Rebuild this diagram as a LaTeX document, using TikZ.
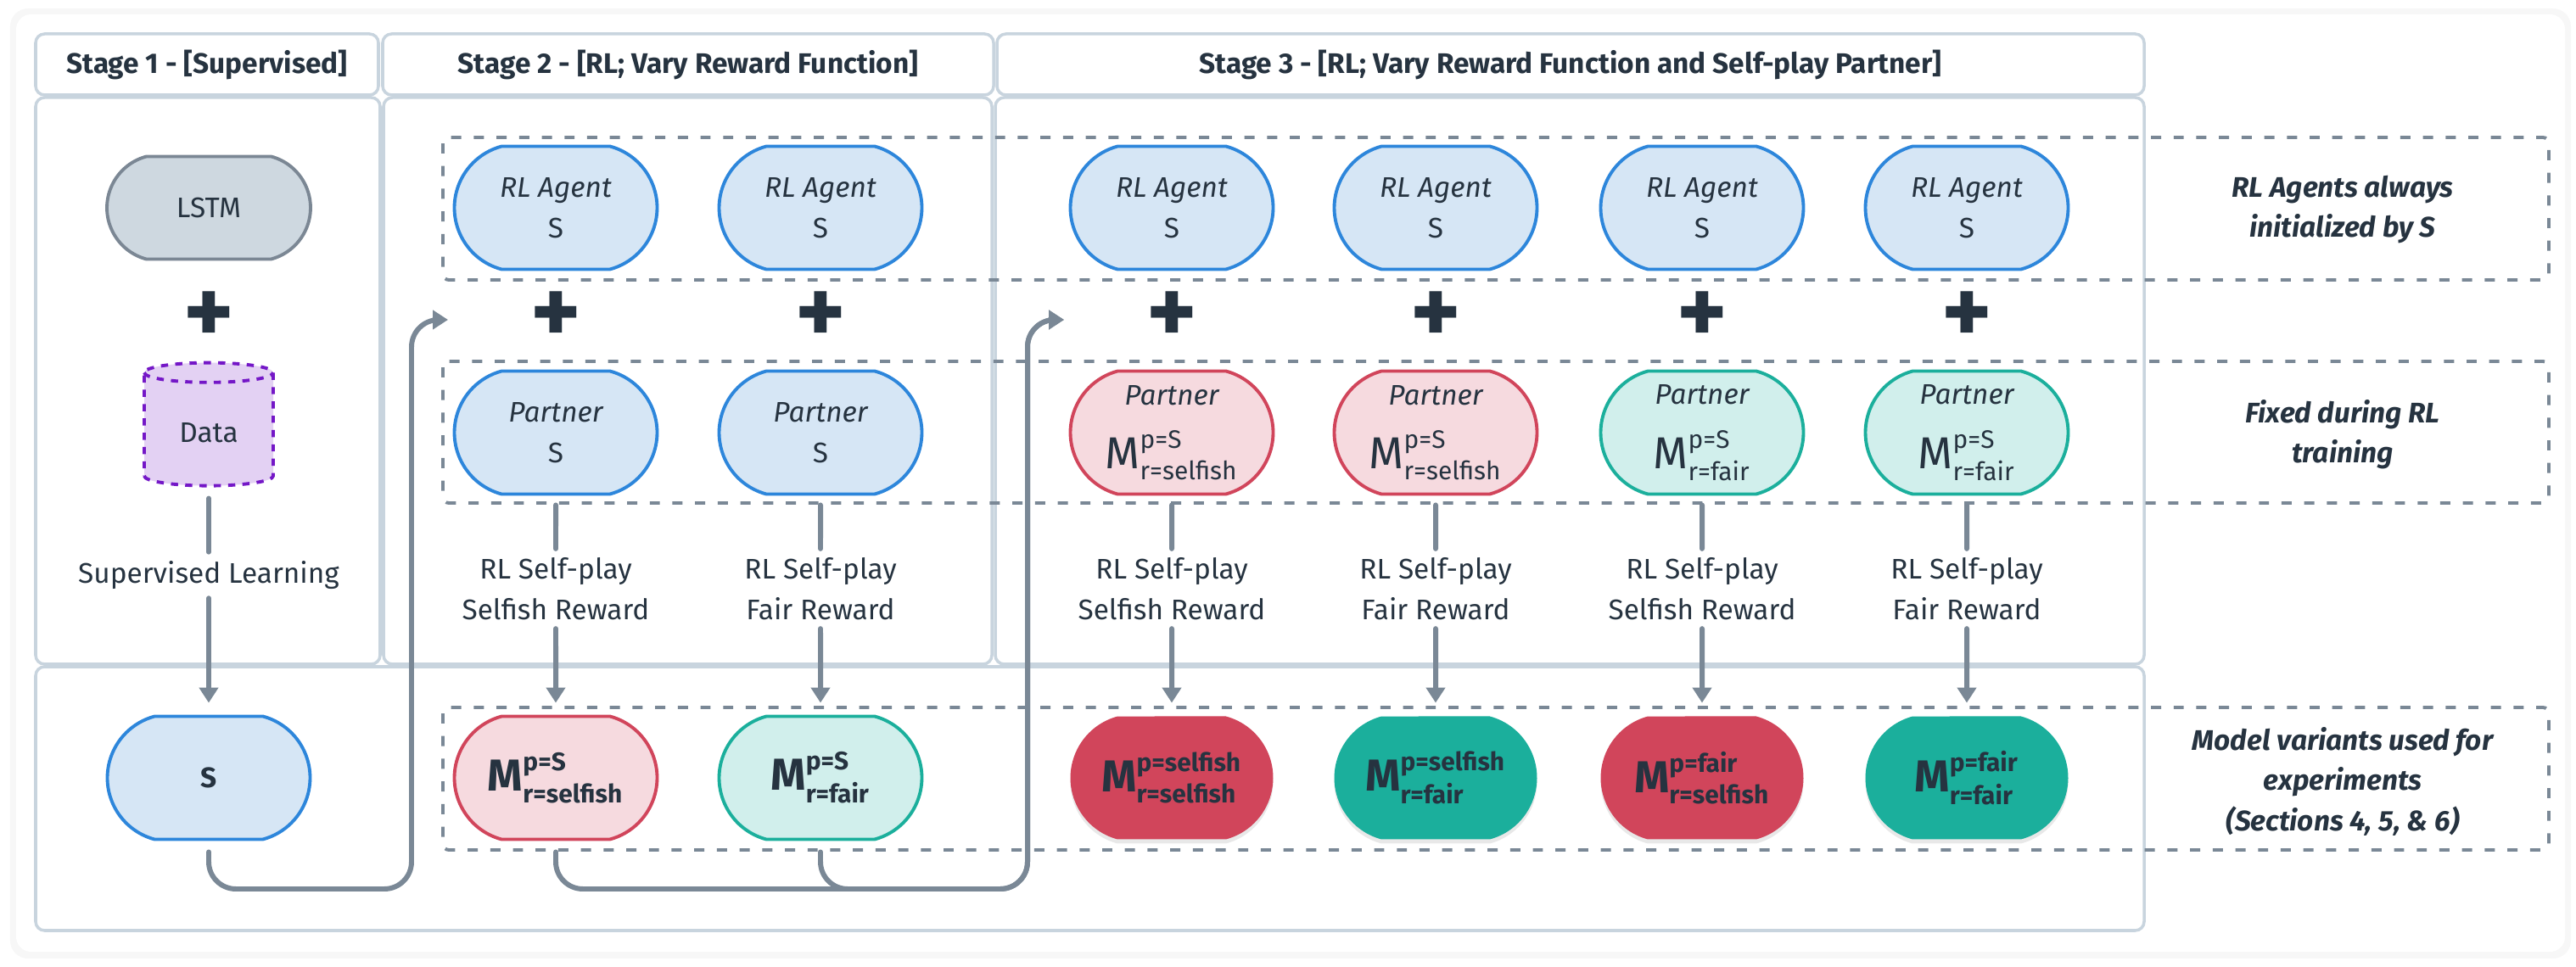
\documentclass[tikz,border=0pt]{standalone}
\usepackage{amsmath}
\usepackage{fontspec}
\setmainfont{Fira Sans}
\usepackage{tikz}
\usetikzlibrary{positioning,arrows.meta,shapes.geometric,shapes.misc,shadows}
\definecolor{inkdark}{RGB}{38,51,64}
\definecolor{linkgray}{RGB}{122,136,150}
\definecolor{framegray}{RGB}{200,212,222}
\definecolor{agentblue}{RGB}{45,134,219}
\definecolor{agentfill}{RGB}{214,230,245}
\definecolor{lstmedge}{RGB}{123,135,148}
\definecolor{lstmfill}{RGB}{206,216,224}
\definecolor{selfishred}{RGB}{209,69,91}
\definecolor{selfishfill}{RGB}{246,218,223}
\definecolor{fairteal}{RGB}{27,175,156}
\definecolor{fairfill}{RGB}{209,239,236}
\definecolor{datapurple}{RGB}{116,23,199}
\definecolor{datafill}{RGB}{227,209,243}

\newcommand{\Mvar}[2]{{\fontsize{15}{18}\selectfont$\text{M}^{\text{\fontsize{8.5}{9}\selectfont #1}}_{\text{\fontsize{8.5}{9}\selectfont #2}}$}}

\begin{document}
\begin{tikzpicture}[
  >={Triangle[length=1.8mm,width=2.2mm]},
  pill/.style={rounded rectangle,rounded rectangle arc length=150,minimum width=2.53cm,minimum height=1.45cm,line width=1.1pt,inner sep=2pt,align=center,text=inkdark,font=\fontsize{9.5}{13.5}\selectfont},
  agent/.style={pill,draw=agentblue,fill=agentfill},
  lstm/.style={pill,draw=lstmedge,fill=lstmfill,minimum height=1.21cm,minimum width=2.54cm},
  selfishpart/.style={pill,draw=selfishred,fill=selfishfill},
  fairpart/.style={pill,draw=fairteal,fill=fairfill},
  selfishout/.style={pill,fill=selfishred,font=\bfseries,drop shadow={opacity=0.18,shadow xshift=0pt,shadow yshift=-0.05cm}},
  fairout/.style={pill,fill=fairteal,font=\bfseries,drop shadow={opacity=0.18,shadow xshift=0pt,shadow yshift=-0.05cm}},
  datastore/.style={cylinder,shape border rotate=90,aspect=0.25,minimum width=1.52cm,minimum height=1.45cm,draw=datapurple,fill=datafill,line width=1.1pt,dash pattern=on 2.4pt off 2.4pt,text=inkdark,font=\fontsize{9.5}{13.5}\selectfont},
  plusmark/.style={inner sep=0pt,text=inkdark,font=\fontsize{32}{32}\selectfont\bfseries},
  steplbl/.style={align=center,inner sep=0.1cm,text=inkdark,font=\fontsize{9.5}{13.5}\selectfont},
  sidelbl/.style={align=center,text=inkdark,font=\fontsize{9.5}{13.5}\selectfont\bfseries\itshape},
  stagehead/.style={draw=framegray,line width=1pt,rounded corners=3pt,minimum height=0.72cm,text=inkdark,font=\fontsize{9.5}{12}\selectfont\bfseries},
  stageframe/.style={draw=framegray,line width=1pt,rounded corners=3pt},
  groupbox/.style={draw=linkgray,line width=1.1pt,dash pattern=on 3.4pt off 4.2pt,rounded corners=2pt},
  link/.style={line width=1.7pt,linkgray,line cap=round},
  ar/.style={link,->},
  feed/.style={link,->,rounded corners=0.32cm,shorten <=0.13cm}
]
\useasboundingbox (0,0) rectangle (30.36,11.40);
% card and stage frames
\fill[black!3,rounded corners=6pt] (0.12,0.10) rectangle (30.30,11.30);
\fill[white,rounded corners=5pt] (0.19,0.18) rectangle (30.23,11.23);

\node[stagehead,minimum width=4.04cm] (head1) at (2.44,10.64) {Stage 1 - [Supervised]};
\node[stagehead,minimum width=7.20cm] (head2) at (8.11,10.64) {Stage 2 - [RL; Vary Reward Function]};
\node[stagehead,minimum width=13.52cm] (head3) at (18.51,10.64) {Stage 3 - [RL; Vary Reward Function and Self-play Partner]};

\draw[stageframe] (0.42,10.25) rectangle (4.48,3.57);
\draw[stageframe] (4.52,10.25) rectangle (11.69,3.57);
\draw[stageframe] (11.73,10.25) rectangle (25.27,3.57);
\draw[stageframe] (0.42,3.54) rectangle (25.27,0.43);

% dashed row groups
\draw[groupbox] (5.22,9.78) rectangle (30.04,8.10);
\draw[groupbox] (5.22,7.14) rectangle (30.04,5.47);
\draw[groupbox] (5.22,3.06) rectangle (30.04,1.38);

% STAGE 1
\node[lstm] (lstm) at (2.46,8.95) {LSTM};
\node[plusmark] (plusA) at (2.46,7.65) {+};
\node[datastore] (data) at (2.46,6.30) {Data};
\node[steplbl] (suplbl) at (2.46,4.62) {Supervised Learning};
\node[agent,font=\fontsize{9.5}{13.5}\selectfont\bfseries] (smodel) at (2.46,2.23) {S};

% STAGE 2
\node[agent] (agentB1) at (6.55,8.95) {{\itshape RL Agent}\\S};
\node[agent] (agentB2) at (9.67,8.95) {{\itshape RL Agent}\\S};
\node[plusmark] (plusB1) at (6.55,7.65) {+};
\node[plusmark] (plusB2) at (9.67,7.65) {+};
\node[agent] (partB1) at (6.55,6.30) {{\itshape Partner}\\S};
\node[agent] (partB2) at (9.67,6.30) {{\itshape Partner}\\S};
\node[steplbl] (lblB1) at (6.55,4.46) {RL Self-play\\Selfish Reward};
\node[steplbl] (lblB2) at (9.67,4.46) {RL Self-play\\Fair Reward};
\node[selfishpart] (modelB1) at (6.55,2.23) {\bfseries\Mvar{p=S}{r=selfish}};
\node[fairpart] (modelB2) at (9.67,2.23) {\bfseries\Mvar{p=S}{r=fair}};

% STAGE 3
\node[agent] (agentC1) at (13.81,8.95) {{\itshape RL Agent}\\S};
\node[agent] (agentC2) at (16.92,8.95) {{\itshape RL Agent}\\S};
\node[agent] (agentC3) at (20.06,8.95) {{\itshape RL Agent}\\S};
\node[agent] (agentC4) at (23.18,8.95) {{\itshape RL Agent}\\S};
\node[plusmark] (plusC1) at (13.81,7.65) {+};
\node[plusmark] (plusC2) at (16.92,7.65) {+};
\node[plusmark] (plusC3) at (20.06,7.65) {+};
\node[plusmark] (plusC4) at (23.18,7.65) {+};
\node[selfishpart] (partC1) at (13.81,6.30) {{\itshape Partner}\\[8pt]\Mvar{p=S}{r=selfish}};
\node[selfishpart] (partC2) at (16.92,6.30) {{\itshape Partner}\\[8pt]\Mvar{p=S}{r=selfish}};
\node[fairpart] (partC3) at (20.06,6.30) {{\itshape Partner}\\[8pt]\Mvar{p=S}{r=fair}};
\node[fairpart] (partC4) at (23.18,6.30) {{\itshape Partner}\\[8pt]\Mvar{p=S}{r=fair}};
\node[steplbl] (lblC1) at (13.81,4.46) {RL Self-play\\Selfish Reward};
\node[steplbl] (lblC2) at (16.92,4.46) {RL Self-play\\Fair Reward};
\node[steplbl] (lblC3) at (20.06,4.46) {RL Self-play\\Selfish Reward};
\node[steplbl] (lblC4) at (23.18,4.46) {RL Self-play\\Fair Reward};
\node[selfishout] (modelC1) at (13.81,2.23) {\Mvar{p=selfish}{r=selfish}};
\node[fairout] (modelC2) at (16.92,2.23) {\Mvar{p=selfish}{r=fair}};
\node[selfishout] (modelC3) at (20.06,2.23) {\Mvar{p=fair}{r=selfish}};
\node[fairout] (modelC4) at (23.18,2.23) {\Mvar{p=fair}{r=fair}};

% RIGHT: row notes
\node[sidelbl] (noteA) at (27.61,8.93) {RL Agents always\\initialized by S};
\node[sidelbl] (noteB) at (27.61,6.28) {Fixed during RL\\training};
\node[sidelbl] (noteC) at (27.61,2.19) {Model variants used for\\experiments\\(Sections 4, 5, \& 6)};

% vertical flows
\draw[link,shorten <=0.13cm] (data) -- (suplbl);
\draw[ar,shorten >=0.14cm] (suplbl) -- (smodel);
\draw[link,shorten <=0.11cm] (partB1) -- (lblB1);
\draw[ar,shorten >=0.14cm] (lblB1) -- (modelB1);
\draw[link,shorten <=0.11cm] (partB2) -- (lblB2);
\draw[ar,shorten >=0.14cm] (lblB2) -- (modelB2);
\draw[link,shorten <=0.11cm] (partC1) -- (lblC1);
\draw[ar,shorten >=0.14cm] (lblC1) -- (modelC1);
\draw[link,shorten <=0.11cm] (partC2) -- (lblC2);
\draw[ar,shorten >=0.14cm] (lblC2) -- (modelC2);
\draw[link,shorten <=0.11cm] (partC3) -- (lblC3);
\draw[ar,shorten >=0.14cm] (lblC3) -- (modelC3);
\draw[link,shorten <=0.11cm] (partC4) -- (lblC4);
\draw[ar,shorten >=0.14cm] (lblC4) -- (modelC4);

% feed-forward to next stage
\coordinate (in2) at (5.28,7.63);
\coordinate (in3) at (12.54,7.63);
\draw[feed] (smodel.south) |- (4.85,0.92) |- (in2);
\draw[feed] (modelB1.south) |- (12.11,0.92) |- (in3);
\draw[feed] (modelB2.south) |- (12.11,0.92) |- (in3);

\end{tikzpicture}
\end{document}
